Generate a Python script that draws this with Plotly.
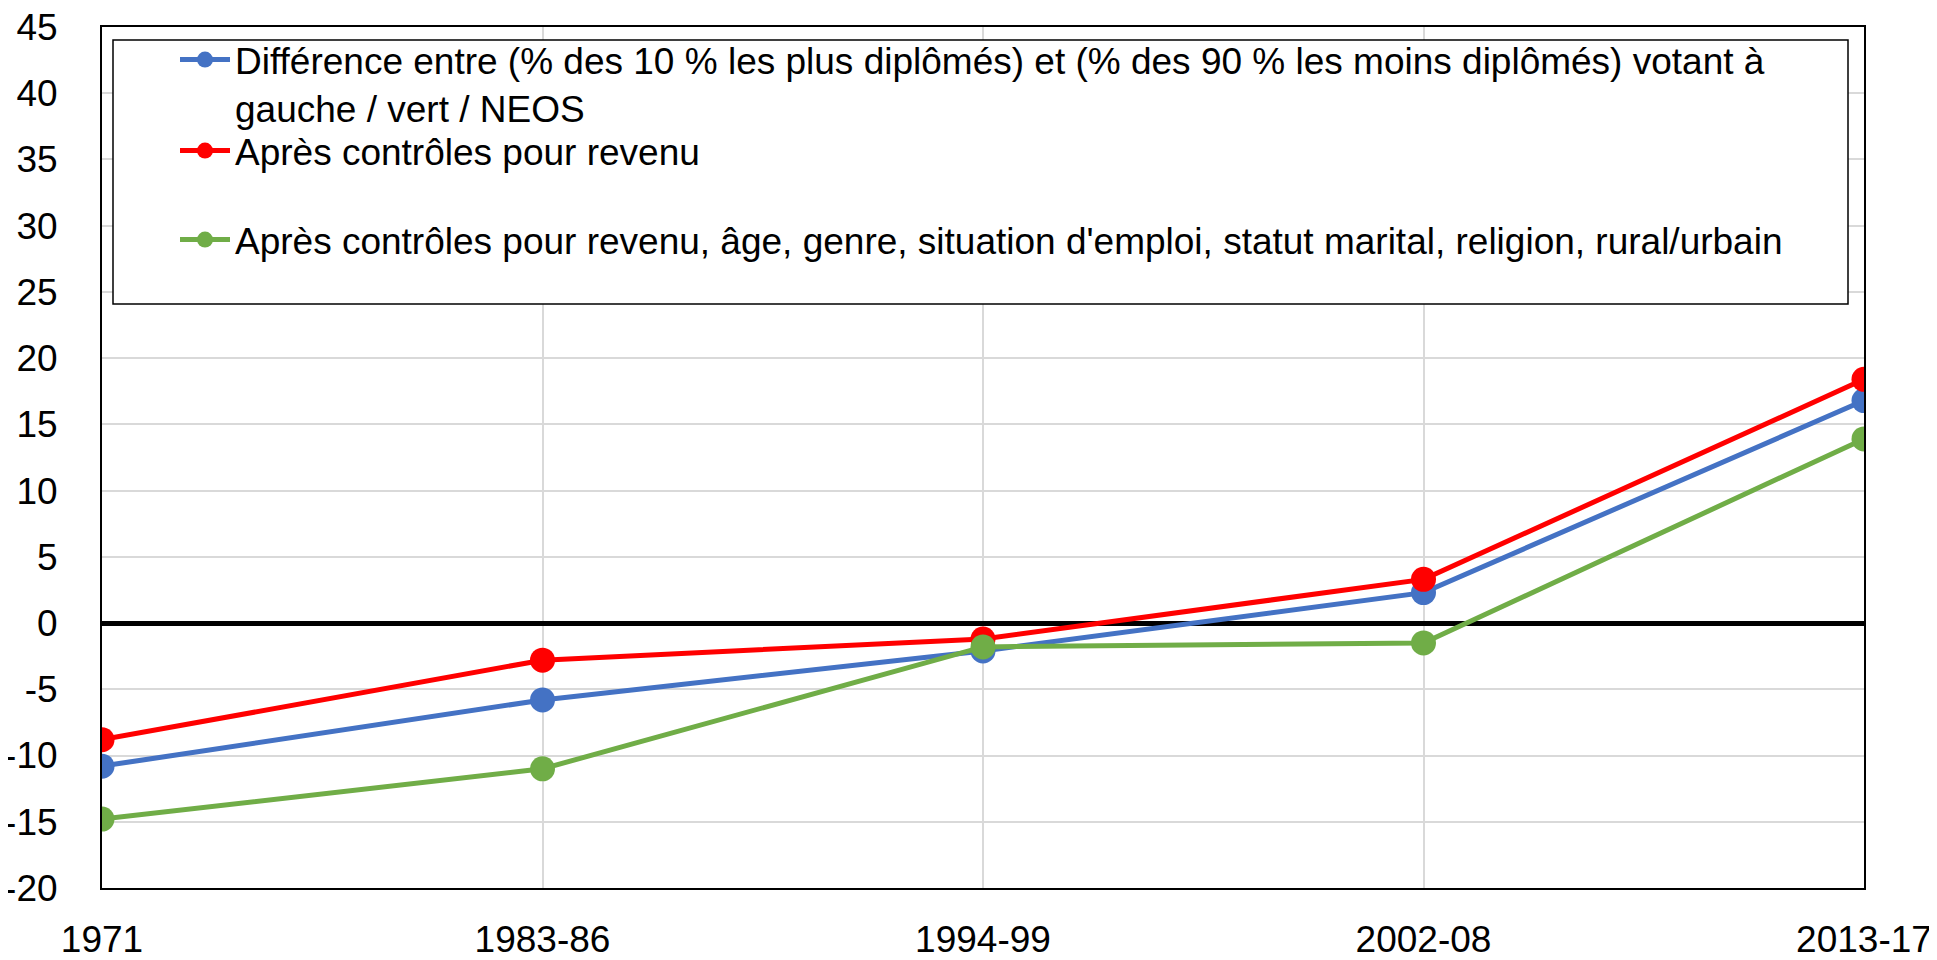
import plotly.graph_objects as go

categories = ["1971", "1983-86", "1994-99", "2002-08", "2013-17"]
diff_values = [-10.8, -5.8, -2.1, 2.3, 16.8]
revenu_values = [-8.8, -2.8, -1.2, 3.3, 18.4]
full_values = [-14.8, -11.0, -1.8, -1.5, 13.9]

y_tickvals = [-20, -15, -10, -5, 0, 5, 10, 15, 20, 25, 30, 35, 40, 45]
y_ticktext = ["-20", "-15", "-10", "-5", "0", "5", "10", "15", "20", "25", "30", "35", "40", "45"]

names = [
    "Différence entre (% des 10 % les plus diplômés) et (% des 90 % les moins diplômés) votant à<br>gauche / vert / NEOS",
    "Après contrôles pour revenu",
    "Après contrôles pour revenu, âge, genre, situation d'emploi, statut marital, religion, rural/urbain",
]
colors = ["#4472C4", "#FF0000", "#70AD47"]
series = [diff_values, revenu_values, full_values]
legend_ids = ["legend", "legend2", "legend3"]

# page has an 8px body margin; work in page pixels
OFF = 8
W, H = 1937 - 2 * OFF, 960 - 2 * OFF
L, R, T, B = 102, 1864, 27, 888  # plot area in page pixels
FONT = "Liberation Sans, Arial, sans-serif"

fig = go.Figure()
for name, vals, col, lg in zip(names, series, colors, legend_ids):
    fig.add_trace(go.Scatter(
        x=categories, y=vals, name=name, mode="lines+markers",
        line=dict(color=col, width=5),
        marker=dict(color=col, size=25),
        legend=lg,
    ))

def px_x(px):
    return (px - L) / (R - L)

def px_y(py):
    return (B - py) / (B - T)

legend_common = dict(
    xref="paper", yref="paper", xanchor="left", yanchor="middle",
    bgcolor="rgba(0,0,0,0)", borderwidth=0,
    font=dict(family=FONT, size=37, color="black"),
    itemwidth=50, valign="top",
)

fig.update_layout(
    width=W, height=H,
    margin=dict(l=L - OFF, r=W - (R - OFF), t=T - OFF, b=H - (B - OFF), autoexpand=False),
    plot_bgcolor="white", paper_bgcolor="white",
    font=dict(family=FONT, size=37, color="black"),
    showlegend=True,
    legend=dict(x=px_x(175), y=px_y(84), **legend_common),
    legend2=dict(x=px_x(175), y=px_y(151), **legend_common),
    legend3=dict(x=px_x(175), y=px_y(240), **legend_common),
    xaxis=dict(
        type="category", range=[0, 4],
        showgrid=True, gridcolor="#D9D9D9", gridwidth=2,
        showline=True, linecolor="black", linewidth=2, mirror=True,
        ticks="", ticklabelstandoff=18, ticklabeloverflow="allow",
        tickfont=dict(family=FONT, size=37, color="black"),
    ),
    yaxis=dict(
        range=[-20, 45.0005], tickvals=y_tickvals, ticktext=y_ticktext,
        showgrid=True, gridcolor="#D9D9D9", gridwidth=2,
        zeroline=True, zerolinecolor="black", zerolinewidth=5,
        showline=True, linecolor="black", linewidth=2, mirror=True,
        ticks="", ticklabelstandoff=35, ticklabeloverflow="allow",
        tickfont=dict(family=FONT, size=37, color="black"),
    ),
    shapes=[dict(
        type="rect", xref="paper", yref="paper", layer="above",
        x0=px_x(113), x1=px_x(1848),
        y0=px_y(304), y1=px_y(40),
        line=dict(color="black", width=1.5), fillcolor="white",
    )],
)

fig.write_html("out.html")
